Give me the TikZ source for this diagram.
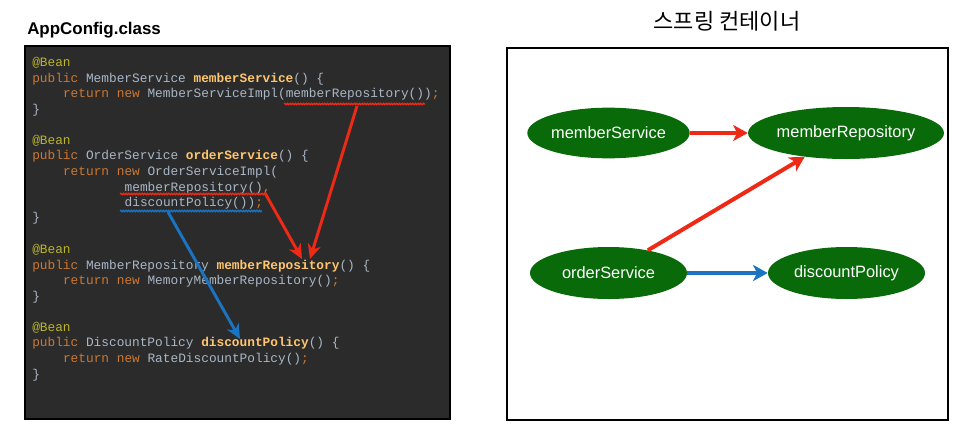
\documentclass[tikz,border=0pt]{standalone}
\usepackage{fontspec}
\setmainfont{Liberation Sans}
\newfontfamily\codefont{Liberation Mono}
\newfontfamily\krfont{Noto Sans CJK KR}
\usetikzlibrary{arrows.meta,decorations.pathmorphing,shapes.geometric}

\definecolor{codebg}{HTML}{2B2B2B}
\definecolor{plaincol}{HTML}{A9B7C6}
\definecolor{kwcol}{HTML}{CC7832}
\definecolor{anncol}{HTML}{BBB529}
\definecolor{fncol}{HTML}{FFC66D}
\definecolor{beangreen}{HTML}{086A08}
\definecolor{arrred}{HTML}{EE2A16}
\definecolor{arrblue}{HTML}{1B74C2}

\newcommand{\kw}[1]{\textcolor{kwcol}{#1}}
\newcommand{\ann}[1]{\textcolor{anncol}{#1}}
\newcommand{\fn}[1]{\textcolor{fncol}{\bfseries #1}}

\tikzset{
  codeline/.style={anchor=west, inner sep=0pt, text=plaincol,
    font=\codefont\fontsize{9.6}{11}\selectfont, text height=7pt, text depth=2pt},
  bean/.style={ellipse, fill=beangreen, text=white, inner sep=0pt,
    minimum width=117.75pt, minimum height=38pt,
    font=\fontsize{12.3}{14}\selectfont},
  redarrow/.style={arrred, line width=2.2pt, -{Stealth[length=11pt,width=10pt]}},
  bluearrow/.style={arrblue, line width=2.2pt, -{Stealth[length=11pt,width=10pt]}},
  wire/.style={line width=3pt, -{Stealth[length=11pt,width=12pt,inset=3pt]}},
  wavy/.style={line width=1pt, decorate,
    decoration={snake, amplitude=0.5pt, segment length=2pt}}
}

\begin{document}
\begin{tikzpicture}[x=0.75pt, y=-0.75pt]

\useasboundingbox (0,0) rectangle (966,432);

% Code panel
\node[anchor=west, inner sep=0pt, font=\bfseries\fontsize{12.7}{14}\selectfont] (cfgtitle) at (27,30) {AppConfig.class};
\draw[black, line width=1.5pt, fill=codebg] (25,46) rectangle (450,419);

\node[codeline] (l1)  at (32,63)    {\ann{@Bean}};
\node[codeline] (l2)  at (32,79)    {\kw{public} MemberService \fn{memberService}() \{};
\node[codeline] (l3)  at (62.8,94)  {\kw{return new} MemberServiceImpl(memberRepository())\kw{;}};
\node[codeline] (l4)  at (32,110)   {\}};

\node[codeline] (l6)  at (32,141)   {\ann{@Bean}};
\node[codeline] (l7)  at (32,156)   {\kw{public} OrderService \fn{orderService}() \{};
\node[codeline] (l8)  at (62.8,172) {\kw{return new} OrderServiceImpl(};
\node[codeline] (l9)  at (124.4,188) {memberRepository()\kw{,}};
\node[codeline] (l10) at (124.4,203) {discountPolicy())\kw{;}};
\node[codeline] (l11) at (32,218)   {\}};

\node[codeline] (l13) at (32,250)   {\ann{@Bean}};
\node[codeline] (l14) at (32,266)   {\kw{public} MemberRepository \fn{memberRepository}() \{};
\node[codeline] (l15) at (62.8,281) {\kw{return new} MemoryMemberRepository()\kw{;}};
\node[codeline] (l16) at (32,297)   {\}};

\node[codeline] (l18) at (32,328)   {\ann{@Bean}};
\node[codeline] (l19) at (32,343)   {\kw{public} DiscountPolicy \fn{discountPolicy}() \{};
\node[codeline] (l20) at (62.8,359) {\kw{return new} RateDiscountPolicy()\kw{;}};
\node[codeline] (l21) at (32,375)   {\}};

% Underlines
\coordinate (u1s) at (284,104);  \coordinate (u1e) at (425,104);
\coordinate (u2s) at (120,194);  \coordinate (u2e) at (266,194);
\coordinate (u3s) at (120,211);  \coordinate (u3e) at (262,211);
\draw[wavy, arrred]  (u1s) -- (u1e);
\draw[wavy, arrred]  (u2s) -- (u2e);
\draw[wavy, arrblue] (u3s) -- (u3e);

% Injection arrows in the code
\coordinate (a1s) at (357,106);  \coordinate (a1e) at (310,259);
\coordinate (a2s) at (265,193);  \coordinate (a2e) at (302,259);
\coordinate (a3s) at (168,212);  \coordinate (a3e) at (240,339);
\draw[redarrow]  (a1s) -- (a1e);
\draw[redarrow]  (a2s) -- (a2e);
\draw[bluearrow] (a3s) -- (a3e);

% Container
\node[font=\krfont\fontsize{16.5}{18}\selectfont, inner sep=0pt] (ctitle) at (727,21) {스프링 컨테이너};
\draw[black, line width=1.6pt] (507,48) rectangle (948,420);

\node[bean] (mS) at (608.5,133) {memberService};
\node[bean, minimum width=138pt, minimum height=39pt] (mR) at (846,133) {memberRepository};
\node[bean, minimum height=39pt] (oS) at (608.5,273) {orderService};
\node[bean, minimum height=39pt] (dP) at (846.5,273) {discountPolicy};

\draw[wire, arrred]  (mS.east) -- (mR.west);
\draw[wire, arrred]  (oS.30) -- (mR.210);
\draw[wire, arrblue] (oS.east) -- (dP.west);

\end{tikzpicture}
\end{document}
